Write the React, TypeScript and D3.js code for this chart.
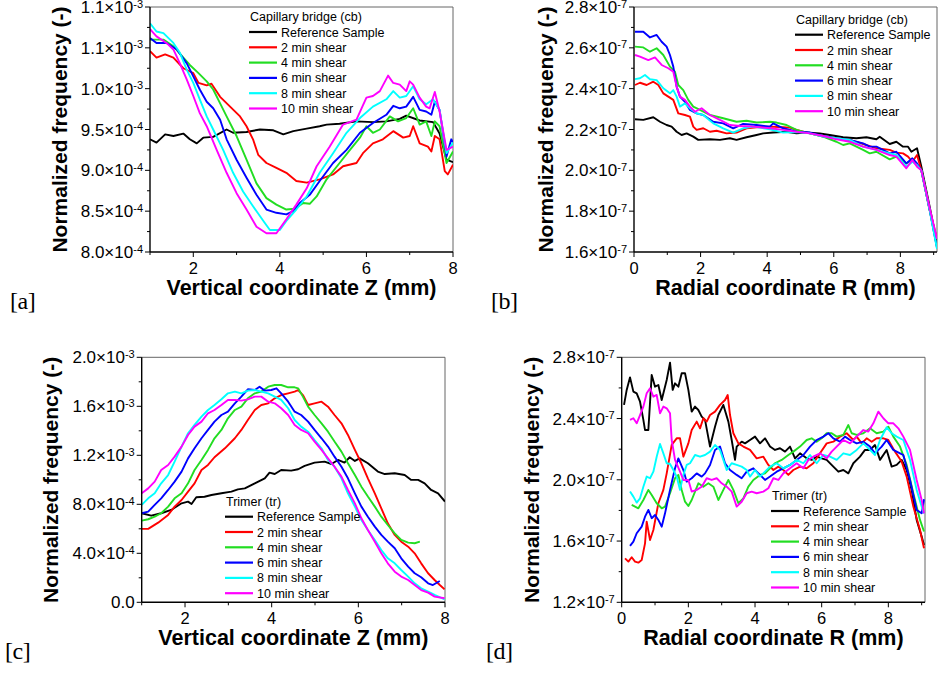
import React from "react";
import * as d3 from "d3";

// Pixel size of the figure
const W = 939;
const H = 673;

type Pt = [number, number];

// Legend entries (same for all four panels)
const SERIES_LABELS = ["Reference Sample", "2 min shear", "4 min shear", "6 min shear", "8 min shear", "10 min shear"];
const SERIES_COLORS = ["#000000", "#ff0000", "#22dd22", "#0000ff", "#00ffff", "#ff00ff"];

// ---- [a] capillary bridge, vertical coordinate Z (mm) vs normalized frequency (x1e-4)
const CB_Z_REF: Pt[] = [[1.00,9.38],[1.15,9.34],[1.35,9.44],[1.54,9.42],[1.77,9.45],[1.92,9.38],[2.08,9.33],[2.23,9.40],[2.46,9.41],[2.77,9.50],[2.92,9.46],[3.23,9.47],[3.54,9.50],[3.85,9.49],[4.08,9.44],[4.31,9.48],[4.62,9.51],[4.92,9.54],[5.08,9.56],[5.38,9.57],[5.77,9.60],[6.15,9.59],[6.46,9.60],[6.77,9.63],[6.92,9.67],[7.23,9.61],[7.54,9.59],[7.69,9.45],[7.85,9.13],[8.00,9.10]];
const CB_Z_2: Pt[] = [[1.00,10.46],[1.15,10.38],[1.35,10.42],[1.54,10.38],[1.77,10.25],[2.00,10.19],[2.12,10.07],[2.31,10.04],[2.42,10.06],[2.62,9.90],[2.85,9.78],[3.08,9.66],[3.23,9.54],[3.38,9.38],[3.50,9.19],[3.69,9.09],[3.92,9.03],[4.15,8.97],[4.38,8.87],[4.62,8.85],[4.92,8.89],[5.23,8.95],[5.46,9.05],[5.77,9.09],[5.92,9.21],[6.15,9.33],[6.38,9.38],[6.62,9.48],[6.85,9.40],[7.00,9.42],[7.08,9.54],[7.23,9.33],[7.42,9.29],[7.50,9.23],[7.58,9.42],[7.69,9.38],[7.81,8.99],[7.88,8.95],[8.00,9.07]];
const CB_Z_4: Pt[] = [[1.00,10.60],[1.31,10.60],[1.54,10.52],[1.77,10.38],[1.92,10.29],[2.12,10.19],[2.31,10.09],[2.46,9.99],[2.62,9.82],[2.77,9.66],[3.00,9.42],[3.23,9.13],[3.46,8.84],[3.69,8.66],[3.92,8.58],[4.15,8.52],[4.35,8.53],[4.54,8.60],[4.69,8.59],[4.85,8.68],[5.08,8.89],[5.38,9.09],[5.62,9.25],[5.85,9.40],[6.00,9.54],[6.15,9.46],[6.31,9.50],[6.54,9.66],[6.73,9.60],[6.92,9.64],[7.08,9.76],[7.23,9.56],[7.38,9.60],[7.50,9.42],[7.58,9.60],[7.69,9.54],[7.85,9.09],[8.00,9.23]];
const CB_Z_6: Pt[] = [[1.00,10.62],[1.15,10.56],[1.38,10.56],[1.62,10.48],[1.85,10.31],[2.00,10.15],[2.15,9.99],[2.31,9.84],[2.46,9.76],[2.62,9.62],[2.77,9.38],[3.00,9.13],[3.23,8.91],[3.46,8.70],[3.69,8.52],[3.92,8.48],[4.15,8.46],[4.31,8.50],[4.46,8.60],[4.69,8.70],[4.92,8.87],[5.23,9.09],[5.54,9.25],[5.85,9.46],[6.15,9.58],[6.46,9.68],[6.62,9.79],[6.77,9.76],[6.92,9.78],[7.08,9.90],[7.23,9.74],[7.38,9.72],[7.50,9.68],[7.58,9.84],[7.69,9.74],[7.85,9.17],[7.96,9.38],[8.00,9.34]];
const CB_Z_8: Pt[] = [[1.00,10.80],[1.15,10.70],[1.31,10.68],[1.54,10.56],[1.69,10.44],[1.85,10.23],[2.00,10.07],[2.15,9.87],[2.31,9.66],[2.46,9.50],[2.69,9.25],[2.92,8.97],[3.15,8.74],[3.38,8.56],[3.62,8.38],[3.77,8.27],[4.00,8.27],[4.15,8.38],[4.38,8.52],[4.62,8.68],[4.92,8.97],[5.23,9.21],[5.54,9.46],[5.85,9.64],[6.15,9.78],[6.46,9.87],[6.62,9.97],[6.77,9.89],[6.92,9.91],[7.08,10.03],[7.23,9.87],[7.38,9.81],[7.54,9.87],[7.69,9.74],[7.85,9.21],[8.00,9.34]];
const CB_Z_10: Pt[] = [[1.00,10.73],[1.15,10.64],[1.38,10.56],[1.54,10.48],[1.69,10.31],[1.85,10.11],[2.00,9.91],[2.15,9.70],[2.31,9.54],[2.54,9.25],[2.77,8.97],[3.00,8.72],[3.23,8.52],[3.46,8.31],[3.69,8.23],[3.92,8.23],[4.15,8.40],[4.38,8.58],[4.62,8.78],[4.85,9.05],[5.15,9.29],[5.46,9.56],[5.77,9.62],[6.00,9.89],[6.15,9.91],[6.31,9.97],[6.50,10.16],[6.62,10.07],[6.77,10.05],[6.92,9.97],[7.00,10.09],[7.08,10.05],[7.23,9.89],[7.38,9.78],[7.46,9.76],[7.58,9.96],[7.69,9.72],[7.85,9.25],[8.00,9.29]];

// ---- [b] capillary bridge, radial coordinate R (mm) vs normalized frequency (x1e-7)
const CB_R_REF: Pt[] = [[0.03,2.250],[0.28,2.247],[0.58,2.260],[0.78,2.238],[0.98,2.222],[1.13,2.214],[1.28,2.189],[1.43,2.173],[1.58,2.181],[1.78,2.165],[1.93,2.149],[2.28,2.152],[2.58,2.149],[2.88,2.157],[3.08,2.149],[3.38,2.162],[3.68,2.173],[3.88,2.181],[4.18,2.185],[4.58,2.189],[4.88,2.181],[5.18,2.185],[5.58,2.181],[5.88,2.173],[6.28,2.162],[6.68,2.157],[6.98,2.162],[7.28,2.152],[7.38,2.165],[7.68,2.129],[7.88,2.140],[8.08,2.116],[8.23,2.116],[8.33,2.091],[8.50,2.108],[8.63,2.018],[8.88,1.822],[9.10,1.640]];
const CB_R_2: Pt[] = [[0.03,2.418],[0.18,2.429],[0.38,2.418],[0.58,2.434],[0.73,2.418],[0.88,2.377],[1.03,2.361],[1.18,2.345],[1.33,2.279],[1.53,2.271],[1.68,2.263],[1.78,2.214],[1.88,2.198],[2.08,2.206],[2.28,2.189],[2.48,2.194],[2.78,2.181],[3.08,2.185],[3.38,2.206],[3.68,2.211],[4.08,2.214],[4.48,2.211],[4.68,2.209],[4.88,2.198],[5.28,2.181],[5.68,2.165],[6.08,2.157],[6.48,2.149],[6.88,2.129],[7.28,2.108],[7.68,2.100],[7.88,2.087],[8.08,2.083],[8.23,2.067],[8.36,2.042],[8.50,2.075],[8.63,2.000],[8.88,1.806],[9.10,1.665]];
const CB_R_4: Pt[] = [[0.03,2.606],[0.28,2.602],[0.48,2.581],[0.68,2.598],[0.88,2.565],[1.08,2.508],[1.23,2.483],[1.33,2.418],[1.48,2.393],[1.63,2.345],[1.78,2.312],[1.98,2.296],[2.28,2.271],[2.68,2.255],[3.08,2.238],[3.38,2.243],[3.68,2.234],[4.08,2.238],[4.28,2.234],[4.58,2.222],[4.88,2.198],[5.28,2.181],[5.68,2.165],[6.08,2.140],[6.28,2.124],[6.48,2.132],[6.88,2.100],[7.08,2.083],[7.28,2.091],[7.68,2.054],[7.88,2.067],[8.18,2.034],[8.36,2.051],[8.63,2.000],[8.88,1.806],[9.10,1.625]];
const CB_R_6: Pt[] = [[0.03,2.679],[0.28,2.679],[0.48,2.651],[0.68,2.663],[0.83,2.630],[0.98,2.606],[1.08,2.565],[1.18,2.508],[1.28,2.410],[1.38,2.361],[1.53,2.336],[1.68,2.296],[1.88,2.279],[2.08,2.271],[2.38,2.238],[2.68,2.230],[2.98,2.206],[3.28,2.227],[3.68,2.222],[4.08,2.214],[4.18,2.230],[4.48,2.206],[4.88,2.189],[5.28,2.185],[5.68,2.168],[6.08,2.157],[6.48,2.149],[6.88,2.132],[7.08,2.116],[7.28,2.116],[7.68,2.083],[7.88,2.091],[8.18,2.034],[8.36,2.059],[8.50,2.034],[8.63,2.000],[8.88,1.806],[9.10,1.620]];
const CB_R_8: Pt[] = [[0.03,2.447],[0.18,2.451],[0.33,2.467],[0.48,2.446],[0.68,2.442],[0.88,2.402],[1.08,2.377],[1.18,2.393],[1.28,2.361],[1.38,2.312],[1.53,2.328],[1.68,2.304],[1.88,2.279],[2.08,2.271],[2.38,2.230],[2.68,2.206],[2.98,2.185],[3.28,2.206],[3.58,2.214],[4.08,2.201],[4.48,2.185],[4.88,2.188],[5.28,2.181],[5.68,2.165],[6.08,2.157],[6.48,2.149],[6.88,2.116],[7.28,2.100],[7.68,2.083],[7.88,2.075],[8.18,2.018],[8.36,2.042],[8.50,2.026],[8.63,2.000],[8.88,1.806],[9.10,1.615]];
const CB_R_10: Pt[] = [[0.03,2.565],[0.18,2.557],[0.43,2.540],[0.63,2.553],[0.83,2.516],[1.03,2.500],[1.18,2.483],[1.28,2.410],[1.38,2.361],[1.53,2.345],[1.68,2.312],[1.83,2.287],[2.03,2.304],[2.28,2.271],[2.58,2.247],[2.88,2.222],[3.18,2.217],[3.58,2.214],[4.08,2.206],[4.48,2.198],[4.88,2.189],[5.28,2.181],[5.68,2.168],[6.08,2.152],[6.48,2.140],[6.88,2.116],[7.28,2.100],[7.68,2.075],[7.88,2.067],[8.18,2.010],[8.36,2.051],[8.50,2.018],[8.63,2.000],[8.88,1.814],[9.10,1.665]];

// ---- [c] trimer, vertical coordinate Z (mm) vs normalized frequency (x1e-3)
const TR_Z_REF: Pt[] = [[1.00,0.727],[1.22,0.707],[1.45,0.727],[1.68,0.754],[1.92,0.808],[2.07,0.822],[2.15,0.803],[2.26,0.857],[2.45,0.862],[2.61,0.876],[2.84,0.890],[3.07,0.903],[3.22,0.922],[3.38,0.930],[3.61,0.971],[3.84,1.012],[3.95,1.058],[4.07,1.047],[4.22,1.080],[4.45,1.075],[4.61,1.086],[4.76,1.113],[4.99,1.140],[5.22,1.148],[5.38,1.129],[5.53,1.162],[5.68,1.140],[5.80,1.184],[5.92,1.154],[6.03,1.175],[6.22,1.135],[6.45,1.067],[6.61,1.047],[6.84,1.053],[7.07,1.039],[7.22,0.999],[7.38,0.999],[7.53,0.971],[7.68,0.917],[7.84,0.890],[8.00,0.822]];
const TR_Z_2: Pt[] = [[1.00,0.599],[1.15,0.599],[1.38,0.650],[1.61,0.713],[1.76,0.781],[1.92,0.835],[2.07,0.903],[2.22,0.971],[2.38,1.080],[2.53,1.121],[2.68,1.184],[2.92,1.257],[3.15,1.339],[3.30,1.407],[3.45,1.488],[3.61,1.570],[3.76,1.611],[3.92,1.624],[4.07,1.665],[4.22,1.692],[4.38,1.706],[4.53,1.720],[4.61,1.733],[4.72,1.692],[4.84,1.611],[4.99,1.624],[5.15,1.638],[5.30,1.597],[5.45,1.529],[5.61,1.461],[5.76,1.366],[5.92,1.244],[6.07,1.135],[6.22,1.012],[6.38,0.890],[6.53,0.767],[6.68,0.645],[6.84,0.550],[6.99,0.495],[7.15,0.454],[7.30,0.400],[7.45,0.318],[7.61,0.237],[7.76,0.182],[7.88,0.141],[7.99,0.106]];
const TR_Z_4: Pt[] = [[1.00,0.667],[1.15,0.678],[1.30,0.699],[1.45,0.727],[1.61,0.781],[1.76,0.849],[1.92,0.890],[2.07,0.971],[2.22,1.080],[2.38,1.162],[2.53,1.244],[2.68,1.339],[2.84,1.407],[2.99,1.502],[3.15,1.570],[3.30,1.597],[3.45,1.665],[3.61,1.706],[3.76,1.720],[3.92,1.760],[4.07,1.774],[4.22,1.774],[4.38,1.755],[4.53,1.755],[4.61,1.747],[4.72,1.679],[4.84,1.597],[4.99,1.529],[5.15,1.461],[5.30,1.393],[5.45,1.312],[5.61,1.230],[5.76,1.135],[5.92,1.039],[6.07,0.944],[6.22,0.863],[6.38,0.781],[6.53,0.699],[6.68,0.631],[6.84,0.563],[6.99,0.509],[7.15,0.487],[7.30,0.482],[7.42,0.495]];
const TR_Z_6: Pt[] = [[1.00,0.727],[1.15,0.740],[1.30,0.795],[1.45,0.849],[1.61,0.917],[1.76,0.985],[1.92,1.067],[2.07,1.175],[2.22,1.257],[2.38,1.339],[2.53,1.407],[2.68,1.475],[2.84,1.529],[2.99,1.556],[3.15,1.624],[3.30,1.679],[3.45,1.739],[3.61,1.733],[3.72,1.760],[3.84,1.728],[3.99,1.733],[4.11,1.747],[4.22,1.706],[4.38,1.638],[4.53,1.556],[4.68,1.529],[4.84,1.475],[4.99,1.407],[5.15,1.339],[5.30,1.271],[5.45,1.189],[5.61,1.107],[5.76,1.012],[5.92,0.890],[6.07,0.781],[6.22,0.699],[6.38,0.618],[6.53,0.550],[6.68,0.495],[6.84,0.441],[6.99,0.359],[7.15,0.291],[7.30,0.237],[7.45,0.204],[7.61,0.155],[7.72,0.141],[7.88,0.174]];
const TR_Z_8: Pt[] = [[1.00,0.795],[1.15,0.849],[1.30,0.890],[1.45,0.971],[1.61,1.039],[1.76,1.148],[1.92,1.271],[2.07,1.380],[2.22,1.448],[2.38,1.516],[2.53,1.570],[2.68,1.611],[2.84,1.657],[2.99,1.706],[3.15,1.720],[3.30,1.706],[3.45,1.728],[3.61,1.733],[3.76,1.720],[3.92,1.706],[4.07,1.679],[4.22,1.652],[4.38,1.584],[4.53,1.488],[4.68,1.434],[4.84,1.393],[4.99,1.325],[5.15,1.257],[5.30,1.162],[5.45,1.107],[5.61,1.012],[5.76,0.890],[5.92,0.781],[6.07,0.672],[6.22,0.590],[6.38,0.509],[6.53,0.427],[6.68,0.359],[6.84,0.318],[6.99,0.264],[7.15,0.210],[7.30,0.155],[7.45,0.114],[7.61,0.087],[7.76,0.060],[7.99,0.024]];
const TR_Z_10: Pt[] = [[1.00,0.890],[1.15,0.930],[1.30,0.985],[1.45,1.080],[1.61,1.121],[1.76,1.189],[1.92,1.271],[2.07,1.366],[2.22,1.434],[2.38,1.475],[2.53,1.543],[2.68,1.570],[2.84,1.611],[2.99,1.652],[3.15,1.652],[3.30,1.646],[3.45,1.657],[3.61,1.679],[3.76,1.679],[3.92,1.638],[4.07,1.624],[4.22,1.584],[4.38,1.529],[4.53,1.448],[4.68,1.407],[4.84,1.380],[4.99,1.312],[5.15,1.244],[5.30,1.175],[5.45,1.107],[5.61,1.026],[5.76,0.917],[5.92,0.808],[6.07,0.686],[6.22,0.590],[6.38,0.495],[6.53,0.400],[6.68,0.318],[6.84,0.250],[6.99,0.210],[7.15,0.182],[7.30,0.141],[7.45,0.100],[7.61,0.079],[7.76,0.046],[7.99,0.033]];

// ---- [d] trimer, radial coordinate R (mm) vs normalized frequency (x1e-7)
const TR_R_REF: Pt[] = [[0.07,2.489],[0.15,2.587],[0.25,2.669],[0.35,2.576],[0.45,2.565],[0.55,2.510],[0.65,2.391],[0.70,2.325],[0.80,2.325],[0.90,2.685],[1.00,2.608],[1.10,2.619],[1.20,2.521],[1.35,2.652],[1.45,2.765],[1.53,2.587],[1.60,2.630],[1.70,2.608],[1.80,2.696],[1.90,2.696],[2.00,2.587],[2.10,2.445],[2.20,2.478],[2.30,2.456],[2.40,2.413],[2.50,2.391],[2.65,2.217],[2.80,2.347],[2.90,2.423],[3.05,2.489],[3.20,2.380],[3.30,2.260],[3.40,2.130],[3.45,2.217],[3.60,2.249],[3.70,2.238],[3.85,2.260],[4.00,2.282],[4.15,2.238],[4.30,2.271],[4.45,2.217],[4.60,2.195],[4.75,2.206],[4.90,2.184],[5.05,2.217],[5.20,2.140],[5.35,2.173],[5.55,2.140],[5.70,2.130],[5.85,2.151],[6.00,2.140],[6.15,2.130],[6.35,2.086],[6.50,2.053],[6.65,2.064],[6.80,2.042],[6.95,2.108],[7.15,2.151],[7.30,2.195],[7.45,2.195],[7.60,2.227],[7.75,2.130],[7.95,2.195],[8.10,2.086],[8.25,2.097],[8.40,2.130],[8.55,2.064],[8.70,1.934],[8.85,1.738],[9.00,1.629],[9.07,1.574]];
const TR_R_2: Pt[] = [[0.10,1.487],[0.20,1.466],[0.30,1.494],[0.40,1.466],[0.50,1.459],[0.60,1.476],[0.70,1.585],[0.75,1.727],[0.85,1.607],[0.95,1.672],[1.10,1.847],[1.25,1.934],[1.35,2.042],[1.50,2.228],[1.65,2.271],[1.75,2.271],[1.85,2.151],[2.00,2.238],[2.10,2.325],[2.25,2.380],[2.35,2.336],[2.45,2.402],[2.55,2.380],[2.65,2.423],[2.80,2.445],[2.95,2.489],[3.10,2.521],[3.18,2.554],[3.25,2.423],[3.35,2.304],[3.50,2.238],[3.65,2.217],[3.85,2.195],[4.05,2.140],[4.25,2.151],[4.40,2.097],[4.55,2.064],[4.70,2.086],[4.85,2.064],[5.00,2.032],[5.15,2.064],[5.35,2.086],[5.55,2.075],[5.75,2.108],[5.95,2.173],[6.15,2.238],[6.35,2.249],[6.55,2.282],[6.75,2.304],[6.95,2.260],[7.05,2.282],[7.20,2.238],[7.35,2.271],[7.50,2.249],[7.65,2.271],[7.85,2.271],[8.00,2.260],[8.20,2.184],[8.40,2.119],[8.55,2.021],[8.75,1.825],[8.95,1.672],[9.07,1.553]];
const TR_R_4: Pt[] = [[0.30,1.836],[0.50,1.814],[0.65,1.868],[0.80,1.934],[0.90,1.901],[1.05,1.847],[1.20,1.814],[1.30,1.825],[1.45,1.912],[1.60,2.010],[1.70,2.032],[1.80,1.934],[1.90,1.857],[2.00,1.829],[2.10,1.868],[2.20,1.923],[2.30,1.977],[2.45,1.955],[2.60,1.977],[2.75,1.955],[2.90,1.868],[3.05,1.934],[3.20,1.999],[3.35,1.934],[3.50,1.847],[3.65,1.879],[3.80,1.955],[3.95,1.999],[4.15,2.032],[4.30,2.042],[4.45,2.075],[4.60,2.108],[4.80,2.130],[5.00,2.162],[5.15,2.184],[5.35,2.217],[5.55,2.260],[5.70,2.271],[5.85,2.249],[6.00,2.271],[6.15,2.304],[6.30,2.304],[6.45,2.282],[6.65,2.293],[6.80,2.358],[6.90,2.304],[7.05,2.293],[7.25,2.304],[7.45,2.336],[7.65,2.304],[7.85,2.315],[8.00,2.347],[8.15,2.282],[8.35,2.217],[8.55,2.097],[8.75,1.912],[8.95,1.738],[9.07,1.662]];
const TR_R_6: Pt[] = [[0.25,1.568],[0.35,1.596],[0.45,1.651],[0.60,1.694],[0.70,1.759],[0.80,1.803],[0.90,1.749],[1.00,1.770],[1.10,1.738],[1.20,1.694],[1.30,1.781],[1.45,1.934],[1.60,2.075],[1.70,2.140],[1.85,2.064],[1.95,1.988],[2.10,2.010],[2.25,2.042],[2.40,2.021],[2.50,2.042],[2.65,2.097],[2.80,2.195],[2.95,2.217],[3.10,2.108],[3.25,2.064],[3.45,2.032],[3.60,2.010],[3.75,2.053],[3.95,2.075],[4.15,2.032],[4.30,1.999],[4.45,2.021],[4.65,2.053],[4.85,2.075],[5.05,2.097],[5.25,2.130],[5.45,2.162],[5.65,2.217],[5.85,2.260],[6.05,2.282],[6.20,2.304],[6.35,2.271],[6.55,2.249],[6.70,2.282],[6.85,2.260],[7.05,2.238],[7.25,2.249],[7.45,2.217],[7.60,2.173],[7.80,2.217],[7.95,2.260],[8.15,2.195],[8.35,2.173],[8.45,2.162],[8.65,1.999],[8.85,1.803],[9.00,1.781],[9.07,1.873]];
const TR_R_8: Pt[] = [[0.25,1.923],[0.35,1.890],[0.45,1.851],[0.55,1.879],[0.65,1.955],[0.75,2.021],[0.85,2.010],[0.95,2.053],[1.05,2.151],[1.15,2.234],[1.25,2.173],[1.35,2.108],[1.45,2.103],[1.55,2.064],[1.65,2.021],[1.75,1.934],[1.85,2.032],[1.95,2.097],[2.05,2.108],[2.20,2.162],[2.35,2.151],[2.50,2.162],[2.65,2.184],[2.80,2.227],[2.95,2.195],[3.05,2.130],[3.15,2.064],[3.30,2.108],[3.45,2.097],[3.60,2.086],[3.75,2.064],[3.85,2.021],[4.00,2.064],[4.15,2.021],[4.30,2.053],[4.45,2.086],[4.65,2.108],[4.85,2.075],[5.05,2.097],[5.25,2.130],[5.45,2.108],[5.65,2.162],[5.85,2.108],[6.05,2.162],[6.25,2.151],[6.45,2.130],[6.65,2.173],[6.85,2.162],[7.05,2.195],[7.25,2.238],[7.45,2.195],[7.60,2.162],[7.75,2.260],[7.95,2.343],[8.10,2.304],[8.25,2.282],[8.45,2.260],[8.65,2.130],[8.85,1.934],[9.00,1.825],[9.07,1.781]];
const TR_R_10: Pt[] = [[0.25,2.391],[0.35,2.402],[0.45,2.369],[0.55,2.423],[0.65,2.478],[0.75,2.565],[0.85,2.598],[0.95,2.543],[1.05,2.554],[1.15,2.434],[1.25,2.478],[1.35,2.467],[1.45,2.434],[1.50,2.260],[1.60,2.130],[1.75,2.053],[1.85,1.999],[2.00,1.999],[2.10,1.923],[2.25,1.934],[2.40,1.955],[2.55,2.010],[2.70,1.999],[2.85,2.010],[3.00,1.977],[3.15,1.955],[3.30,1.923],[3.45,1.825],[3.60,1.857],[3.75,1.912],[3.90,1.923],[4.05,1.912],[4.25,1.923],[4.40,1.945],[4.55,2.010],[4.70,1.999],[4.85,2.042],[5.05,2.075],[5.25,2.108],[5.45,2.075],[5.60,2.130],[5.75,2.151],[5.95,2.173],[6.15,2.140],[6.30,2.184],[6.45,2.217],[6.65,2.260],[6.85,2.238],[7.05,2.282],[7.25,2.325],[7.40,2.315],[7.55,2.369],[7.70,2.445],[7.85,2.402],[8.00,2.369],[8.15,2.369],[8.30,2.336],[8.45,2.282],[8.65,2.195],[8.85,1.999],[9.00,1.868],[9.07,1.781]];

// Tick values and their labels (mantissa, exponent)
const Z_TICKS = [2, 4, 6, 8];
const R_TICKS = [0, 2, 4, 6, 8];
const A_Y_TICKS = [8, 8.5, 9, 9.5, 10, 10.5, 11];
const A_Y_LABELS = [["8.0", "-4"], ["8.5", "-4"], ["9.0", "-4"], ["9.5", "-4"], ["1.0", "-3"], ["1.1", "-3"], ["1.1", "-3"]];
const B_Y_TICKS = [1.6, 1.8, 2.0, 2.2, 2.4, 2.6, 2.8];
const B_Y_LABELS = [["1.6", "-7"], ["1.8", "-7"], ["2.0", "-7"], ["2.2", "-7"], ["2.4", "-7"], ["2.6", "-7"], ["2.8", "-7"]];
const C_Y_TICKS = [0, 0.4, 0.8, 1.2, 1.6, 2.0];
const C_Y_LABELS = [["0.0", ""], ["4.0", "-4"], ["8.0", "-4"], ["1.2", "-3"], ["1.6", "-3"], ["2.0", "-3"]];
const D_Y_TICKS = [1.2, 1.6, 2.0, 2.4, 2.8];
const D_Y_LABELS = [["1.2", "-7"], ["1.6", "-7"], ["2.0", "-7"], ["2.4", "-7"], ["2.8", "-7"]];

const SANS = "'Liberation Sans', Arial, Helvetica, sans-serif";
const SERIF = "'Liberation Serif', 'DejaVu Serif', serif";

const panels = [
  {
    id: "a", box: { l: 150, r: 453, t: 7, b: 252 }, xDomain: [1, 8], yDomain: [8, 11],
    xTicks: Z_TICKS, yTicks: A_Y_TICKS, yLabels: A_Y_LABELS,
    series: [CB_Z_REF, CB_Z_2, CB_Z_4, CB_Z_6, CB_Z_8, CB_Z_10],
    legendTitle: "Capillary bridge (cb)", legend: { x: 249, y: 32 },
    xTitle: "Vertical coordinate Z (mm)", yTitleX: 67, tag: "[a]", tagPos: [10, 309],
  },
  {
    id: "b", box: { l: 634, r: 937, t: 7, b: 252 }, xDomain: [0, 9.1], yDomain: [1.6, 2.8],
    xTicks: R_TICKS, yTicks: B_Y_TICKS, yLabels: B_Y_LABELS,
    series: [CB_R_REF, CB_R_2, CB_R_4, CB_R_6, CB_R_8, CB_R_10],
    legendTitle: "Capillary bridge (cb)", legend: { x: 795, y: 34.7 },
    xTitle: "Radial coordinate R (mm)", yTitleX: 553, tag: "[b]", tagPos: [491, 309],
  },
  {
    id: "c", box: { l: 141.7, r: 445, t: 357.3, b: 602.3 }, xDomain: [1, 8], yDomain: [0, 2.0],
    xTicks: Z_TICKS, yTicks: C_Y_TICKS, yLabels: C_Y_LABELS,
    series: [TR_Z_REF, TR_Z_2, TR_Z_4, TR_Z_6, TR_Z_8, TR_Z_10],
    legendTitle: "Trimer (tr)", legend: { x: 225, y: 516.7 },
    xTitle: "Vertical coordinate Z (mm)", yTitleX: 58, tag: "[c]", tagPos: [5, 659],
  },
  {
    id: "d", box: { l: 621.7, r: 925, t: 357.3, b: 602.3 }, xDomain: [0, 9.1], yDomain: [1.2, 2.8],
    xTicks: R_TICKS, yTicks: D_Y_TICKS, yLabels: D_Y_LABELS,
    series: [TR_R_REF, TR_R_2, TR_R_4, TR_R_6, TR_R_8, TR_R_10],
    legendTitle: "Trimer (tr)", legend: { x: 771, y: 511 },
    xTitle: "Radial coordinate R (mm)", yTitleX: 539, tag: "[d]", tagPos: [486, 659],
  },
];

function Panel({ p }: { p: (typeof panels)[number] }) {
  const { l, r, t, b } = p.box;
  const x = d3.scaleLinear().domain(p.xDomain).range([l, r]);
  const y = d3.scaleLinear().domain(p.yDomain).range([b, t]);
  const line = d3.line<Pt>().x((d) => x(d[0])).y((d) => y(d[1]));

  // minor ticks halfway between the major ones
  const xMinor = d3.range(Math.ceil(p.xDomain[0]), p.xDomain[1] + 1e-9, 1).filter((v) => v % 2 === 1);
  const yStep = p.yTicks[1] - p.yTicks[0];
  const yMinor = p.yTicks.slice(0, -1).map((v) => v + yStep / 2);
  const clipId = "clip-" + p.id;
  const rowH = 15.3;

  return (
    <g>
      <defs>
        <clipPath id={clipId}>
          <rect x={l} y={t} width={r - l} height={b - t} />
        </clipPath>
      </defs>

      {/* frame */}
      <line x1={l} x2={r} y1={t} y2={t} stroke="#666" strokeWidth={1} />
      <line x1={r} x2={r} y1={t} y2={b} stroke="#666" strokeWidth={1} />

      {/* data */}
      <g clipPath={`url(#${clipId})`}>
        {p.series.map((s, i) => (
          <path key={i} d={line(s) || ""} fill="none" stroke={SERIES_COLORS[i]} strokeWidth={1.9} strokeLinejoin="round" />
        ))}
      </g>

      {/* axes */}
      <line x1={l} x2={l} y1={t} y2={b} stroke="#000" strokeWidth={1.4} />
      <line x1={l} x2={r} y1={b} y2={b} stroke="#000" strokeWidth={1.4} />

      {p.xTicks.map((v) => (
        <g key={"xt" + v}>
          <line x1={x(v)} x2={x(v)} y1={b} y2={b + 5} stroke="#000" strokeWidth={1} />
          <text x={x(v)} y={b + 22} textAnchor="middle" fontFamily={SANS} fontSize={16.5}>{v}</text>
        </g>
      ))}
      {xMinor.map((v) => (
        <line key={"xm" + v} x1={x(v)} x2={x(v)} y1={b} y2={b + 3} stroke="#000" strokeWidth={1} />
      ))}

      {p.yTicks.map((v, i) => (
        <g key={"yt" + i}>
          <line x1={l - 5} x2={l} y1={y(v)} y2={y(v)} stroke="#000" strokeWidth={1} />
          <text x={l - 7} y={y(v)} dy="0.36em" textAnchor="end" fontFamily={SANS} fontSize={17}>
            {p.yLabels[i][1] ? p.yLabels[i][0] + "\u00d710" : p.yLabels[i][0]}
            {p.yLabels[i][1] ? <tspan dy={-5.5} fontSize={11}>{p.yLabels[i][1]}</tspan> : null}
          </text>
        </g>
      ))}
      {yMinor.map((v, i) => (
        <line key={"ym" + i} x1={l - 3} x2={l} y1={y(v)} y2={y(v)} stroke="#000" strokeWidth={1} />
      ))}

      {/* axis titles */}
      <text x={(l + r) / 2} y={b + 43} textAnchor="middle" fontFamily={SANS} fontWeight="bold" fontSize={21.5}>{p.xTitle}</text>
      <text transform={`translate(${p.yTitleX},${(t + b) / 2}) rotate(-90)`} textAnchor="middle" fontFamily={SANS} fontWeight="bold" fontSize={21}>
        Normalized frequency (-)
      </text>

      {/* legend */}
      <g fontFamily={SANS} fontSize={12.5}>
        <text x={p.legend.x + 1} y={p.legend.y - rowH + 4.5}>{p.legendTitle}</text>
        {SERIES_LABELS.map((lab, i) => (
          <g key={lab}>
            <line x1={p.legend.x} x2={p.legend.x + 28} y1={p.legend.y + i * rowH} y2={p.legend.y + i * rowH} stroke={SERIES_COLORS[i]} strokeWidth={2.2} />
            <text x={p.legend.x + 32} y={p.legend.y + i * rowH + 4.5}>{lab}</text>
          </g>
        ))}
      </g>

      {/* panel tag */}
      <text x={p.tagPos[0]} y={p.tagPos[1]} fontFamily={SERIF} fontSize={24} letterSpacing={-0.5}>{p.tag}</text>
    </g>
  );
}

export default function App() {
  return (
    <svg width={W} height={H} viewBox={`0 0 ${W} ${H}`} style={{ position: "absolute", left: 0, top: 0, background: "#fff" }}>
      <rect width={W} height={H} fill="#fff" />
      {panels.map((p) => (
        <Panel key={p.id} p={p} />
      ))}
    </svg>
  );
}
